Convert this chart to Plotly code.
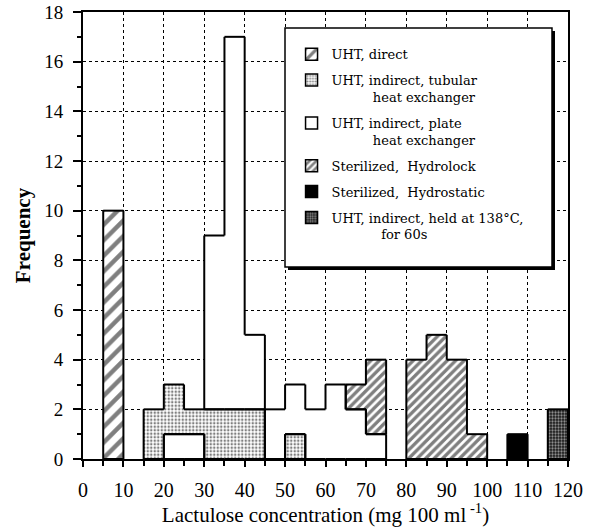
import plotly.graph_objects as go

# Histogram of lactulose concentration (bin width 5 mg/100 ml)
BIN = 5

direct_left = [5]
direct_count = [10]
direct_base = [0]

tubular_left = [15, 20, 25, 30, 35, 40, 50]
tubular_count = [2, 2, 1, 2, 2, 2, 1]
tubular_base = [0, 1, 1, 0, 0, 0, 0]

plate_left = [20, 25, 30, 35, 40, 45, 50, 55, 60, 65, 70]
plate_count = [1, 1, 7, 15, 3, 2, 2, 2, 3, 2, 1]
plate_base = [0, 0, 2, 2, 2, 0, 1, 0, 0, 0, 0]

hydrolock_left = [65, 70, 80, 85, 90, 95]
hydrolock_count = [1, 3, 4, 5, 4, 1]
hydrolock_base = [2, 1, 0, 0, 0, 0]

hydrostatic_left = [105]
hydrostatic_count = [1]
hydrostatic_base = [0]

held_left = [115]
held_count = [2]
held_base = [0]

x_ticks = list(range(0, 121, 10))
y_ticks = list(range(0, 19, 2))

SERIF = "Liberation Serif, Times New Roman, serif"
LEGEND_FONT = "DejaVu Serif, serif"

series = [
    dict(name="UHT, direct", left=direct_left, count=direct_count, base=direct_base,
         color="white", pattern=dict(shape="/", fgcolor="black", size=11, solidity=0.4)),
    dict(name="UHT, indirect, tubular<br>" + "\u00a0" * 10 + "heat exchanger",
         left=tubular_left, count=tubular_count, base=tubular_base,
         color="white", pattern=dict(shape=".", fgcolor="black", size=3.5, solidity=0.4)),
    dict(name="UHT, indirect, plate<br>" + "\u00a0" * 10 + "heat exchanger",
         left=plate_left, count=plate_count, base=plate_base,
         color="white", pattern=None),
    dict(name="Sterilized,  Hydrolock", left=hydrolock_left, count=hydrolock_count,
         base=hydrolock_base, color="white",
         pattern=dict(shape="/", fgcolor="black", size=6, solidity=0.55)),
    dict(name="Sterilized,  Hydrostatic", left=hydrostatic_left, count=hydrostatic_count,
         base=hydrostatic_base, color="black", pattern=None),
    dict(name="UHT, indirect, held at 138°C,<br>" + "\u00a0" * 12 + "for 60s",
         left=held_left, count=held_count, base=held_base,
         color="#1a1a1a", pattern=dict(shape=".", fgcolor="white", size=3, solidity=0.45)),
]


def outline(left, count, base):
    """Boundary segments of the union of a series' bars (step outline)."""
    xs, ys = [], []

    def seg(x0, y0, x1, y1):
        xs.extend([x0, x1, None])
        ys.extend([y0, y1, None])

    spans = {l: (b, b + c) for l, c, b in zip(left, count, base)}
    for l, (lo, hi) in spans.items():
        r = l + BIN
        seg(l, hi, r, hi)
        seg(l, lo, r, lo)
        prev = spans.get(l - BIN)
        if prev is None:
            seg(l, lo, l, hi)
        else:
            plo, phi = prev
            if phi < lo or hi < plo:
                seg(l, lo, l, hi)
                seg(l, plo, l, phi)
            else:
                if plo != lo:
                    seg(l, min(plo, lo), l, max(plo, lo))
                if phi != hi:
                    seg(l, min(phi, hi), l, max(phi, hi))
        if r not in spans:
            seg(r, lo, r, hi)
    return xs, ys


fig = go.Figure()

for i, s in enumerate(series):
    marker = dict(color=s["color"], line=dict(width=0))
    if s["pattern"]:
        marker["pattern"] = s["pattern"]
    fig.add_trace(go.Bar(
        x=[l + BIN / 2 for l in s["left"]], y=s["count"], base=s["base"],
        width=BIN, marker=marker, showlegend=False, legendgroup=f"g{i}",
        hoverinfo="skip",
    ))

for i, s in enumerate(series):
    xs, ys = outline(s["left"], s["count"], s["base"])
    fig.add_trace(go.Scatter(
        x=xs, y=ys, mode="lines", line=dict(color="black", width=2),
        showlegend=False, legendgroup=f"g{i}", hoverinfo="skip",
    ))

# legend entries
for i, s in enumerate(series):
    marker = dict(color=s["color"], line=dict(width=1.5, color="black"))
    if s["pattern"]:
        marker["pattern"] = s["pattern"]
    fig.add_trace(go.Bar(
        x=[None], y=[None], name=s["name"], marker=marker,
        legendgroup=f"g{i}", showlegend=True,
    ))

# legend frame with drop shadow
bx0, bx1, by0, by1 = 0.4165, 0.967, 0.4295, 0.964
sx, sy = 3 / 485, 3 / 447
fig.add_shape(type="rect", xref="paper", yref="paper", layer="above",
              x0=bx0 + sx, x1=bx1 + sx, y0=by0 - sy, y1=by1 - sy,
              fillcolor="black", line=dict(width=0))
fig.add_shape(type="rect", xref="paper", yref="paper", layer="above",
              x0=bx0, x1=bx1, y0=by0, y1=by1,
              fillcolor="white", line=dict(color="black", width=1.5))

axis_common = dict(
    showline=True, linecolor="black", linewidth=2, mirror=True,
    showgrid=True, gridcolor="black", gridwidth=1, griddash="dot",
    zeroline=False, ticks="outside", tickcolor="black", automargin=False,
)

fig.update_xaxes(
    range=[0, 120], tickvals=x_ticks, ticklen=6, tickwidth=1.5,
    tickfont=dict(family=SERIF, size=20, color="black"),
    minor=dict(dtick=5, ticks="outside", ticklen=5, tickcolor="black", showgrid=False),
    ticklabelstandoff=6,
    title=dict(text="Lactulose concentration (mg 100 ml<sup> -1</sup>)",
               font=dict(family=SERIF, size=21, color="black"), standoff=3),
    **axis_common,
)
fig.update_yaxes(
    range=[0, 18], tickvals=y_ticks, ticklen=8, tickwidth=1.5,
    tickfont=dict(family=SERIF, size=19, color="black"),
    minor=dict(dtick=1, ticks="outside", ticklen=4, tickcolor="black", showgrid=False),
    ticklabelstandoff=6,
    title=dict(text="<b>Frequency</b>", font=dict(family=SERIF, size=21, color="black"),
               standoff=8),
    **axis_common,
)

fig.update_layout(
    width=589, height=527,
    margin=dict(l=83, r=21, t=12, b=68),
    paper_bgcolor="white", plot_bgcolor="white",
    barmode="overlay", bargap=0,
    showlegend=True,
    legend=dict(
        x=0.43, y=0.939, xanchor="left", yanchor="top",
        bgcolor="rgba(0,0,0,0)", borderwidth=0,
        font=dict(family=LEGEND_FONT, size=13, color="black"),
        tracegroupgap=6, valign="top", itemclick=False, itemdoubleclick=False,
    ),
)

fig.write_html("out.html")
